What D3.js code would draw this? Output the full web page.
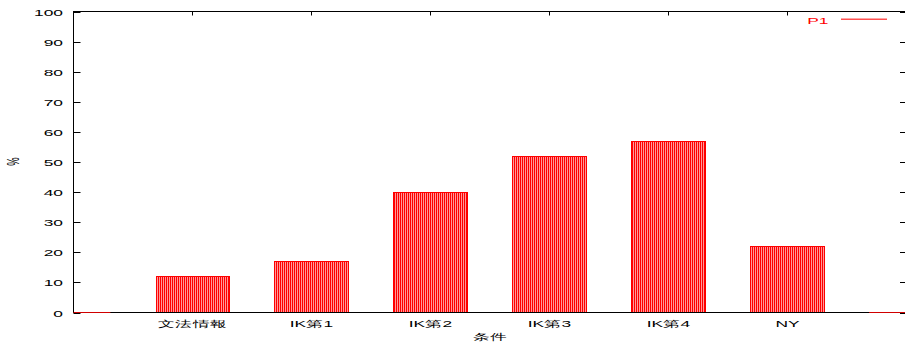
<!DOCTYPE html>
<html><head><meta charset="utf-8">
<script src="https://cdn.jsdelivr.net/npm/d3@7"></script>
<style>body{margin:0;background:#fff}svg{display:block}text{font-family:"Liberation Sans",Arial,sans-serif}</style>
</head><body>
<svg id="c" width="905" height="343"></svg>
<script>
const categories = ["", "文法情報", "IK第1", "IK第2", "IK第3", "IK第4", "NY", ""];
const values = [0, 12, 17, 40, 52, 57, 22, 0];
const yTicks = [0,10,20,30,40,50,60,70,80,90,100];
const seriesName = "P1";

const svg = d3.select("#c");
const L = 73.5, R = 907, T = 11.5, B = 312.5;
const x = d3.scaleLinear().domain([0, 7]).range([L, 906]);
const y = d3.scaleLinear().domain([0, 100]).range([B, T]);
const bw = (x(1) - x(0)) * 0.62;
const SX = 1.85, FS = 9.4;

function label(sel, px, py, str, anchor, color, rot) {
  return sel.append("text")
    .attr("transform", `translate(${px},${py}) scale(${SX},1)` + (rot ? ` rotate(${rot})` : ""))
    .attr("text-anchor", anchor).attr("font-size", FS).attr("fill", color || "#000").text(str);
}

const defs = svg.append("defs");
const pat = defs.append("pattern").attr("id","stripes").attr("patternUnits","userSpaceOnUse")
  .attr("width",2).attr("height",4);
pat.append("rect").attr("width",2).attr("height",4).attr("fill","#ff9a9a");
pat.append("rect").attr("width",1).attr("height",4).attr("fill","#ff0000");

const clip = defs.append("clipPath").attr("id","pc");
clip.append("rect").attr("x",L).attr("y",0).attr("width",R-L).attr("height",343);

// bars
const g = svg.append("g").attr("clip-path","url(#pc)");
values.forEach((v,i)=>{
  const x0 = Math.round(x(i) - bw/2) + 0.5;
  const x1 = Math.round(x(i) + bw/2) + 0.5;
  if (v > 0) {
    const yt = Math.round(y(v)) + 0.5;
    g.append("rect").attr("x",x0).attr("y",yt)
      .attr("width",x1-x0).attr("height",B-yt)
      .attr("fill","url(#stripes)").attr("stroke","#ff0000").attr("stroke-width",1);
  }
});

// frame
svg.append("rect").attr("x",L).attr("y",T).attr("width",R-L).attr("height",B-T)
  .attr("fill","none").attr("stroke","#000").attr("stroke-width",1);

// zero-height bars drawn on axis (above frame)
const g2 = svg.append("g").attr("clip-path","url(#pc)");
values.forEach((v,i)=>{
  if (v === 0) {
    g2.append("line").attr("x1",x(i)-bw/2).attr("x2",x(i)+bw/2).attr("y1",B).attr("y2",B)
      .attr("stroke","#d00000").attr("stroke-width",1.2);
  }
});

// y ticks
const tk = svg.append("g");
yTicks.forEach(t=>{
  const yy = Math.round(y(t))+0.5;
  tk.append("line").attr("x1",L).attr("x2",L+7).attr("y1",yy).attr("y2",yy).attr("stroke","#000");
  tk.append("line").attr("x1",R-7).attr("x2",R).attr("y1",yy).attr("y2",yy).attr("stroke","#000");
  label(tk, 63, yy+3.5, t, "end");
});
// x ticks (top mirror) and labels
categories.forEach((c,i)=>{
  const xx = Math.round(x(i))+0.5;
  if (i>0 && i<7) {
    tk.append("line").attr("x1",xx).attr("x2",xx).attr("y1",T).attr("y2",T+4).attr("stroke","#000");
  }
  if (c) label(tk, xx, 327, c, "middle");
});

// axis labels
label(svg, 490, 340, "条件", "middle");
label(svg, 19, 161.5, "%", "middle", "#000", -90);

// legend
label(svg, 828.5, 24, seriesName, "end", "#ff0000");
svg.append("rect").attr("x",841).attr("y",18.5).attr("width",46).attr("height",1.5)
  .attr("fill","#ff5050");
</script>
</body></html>
